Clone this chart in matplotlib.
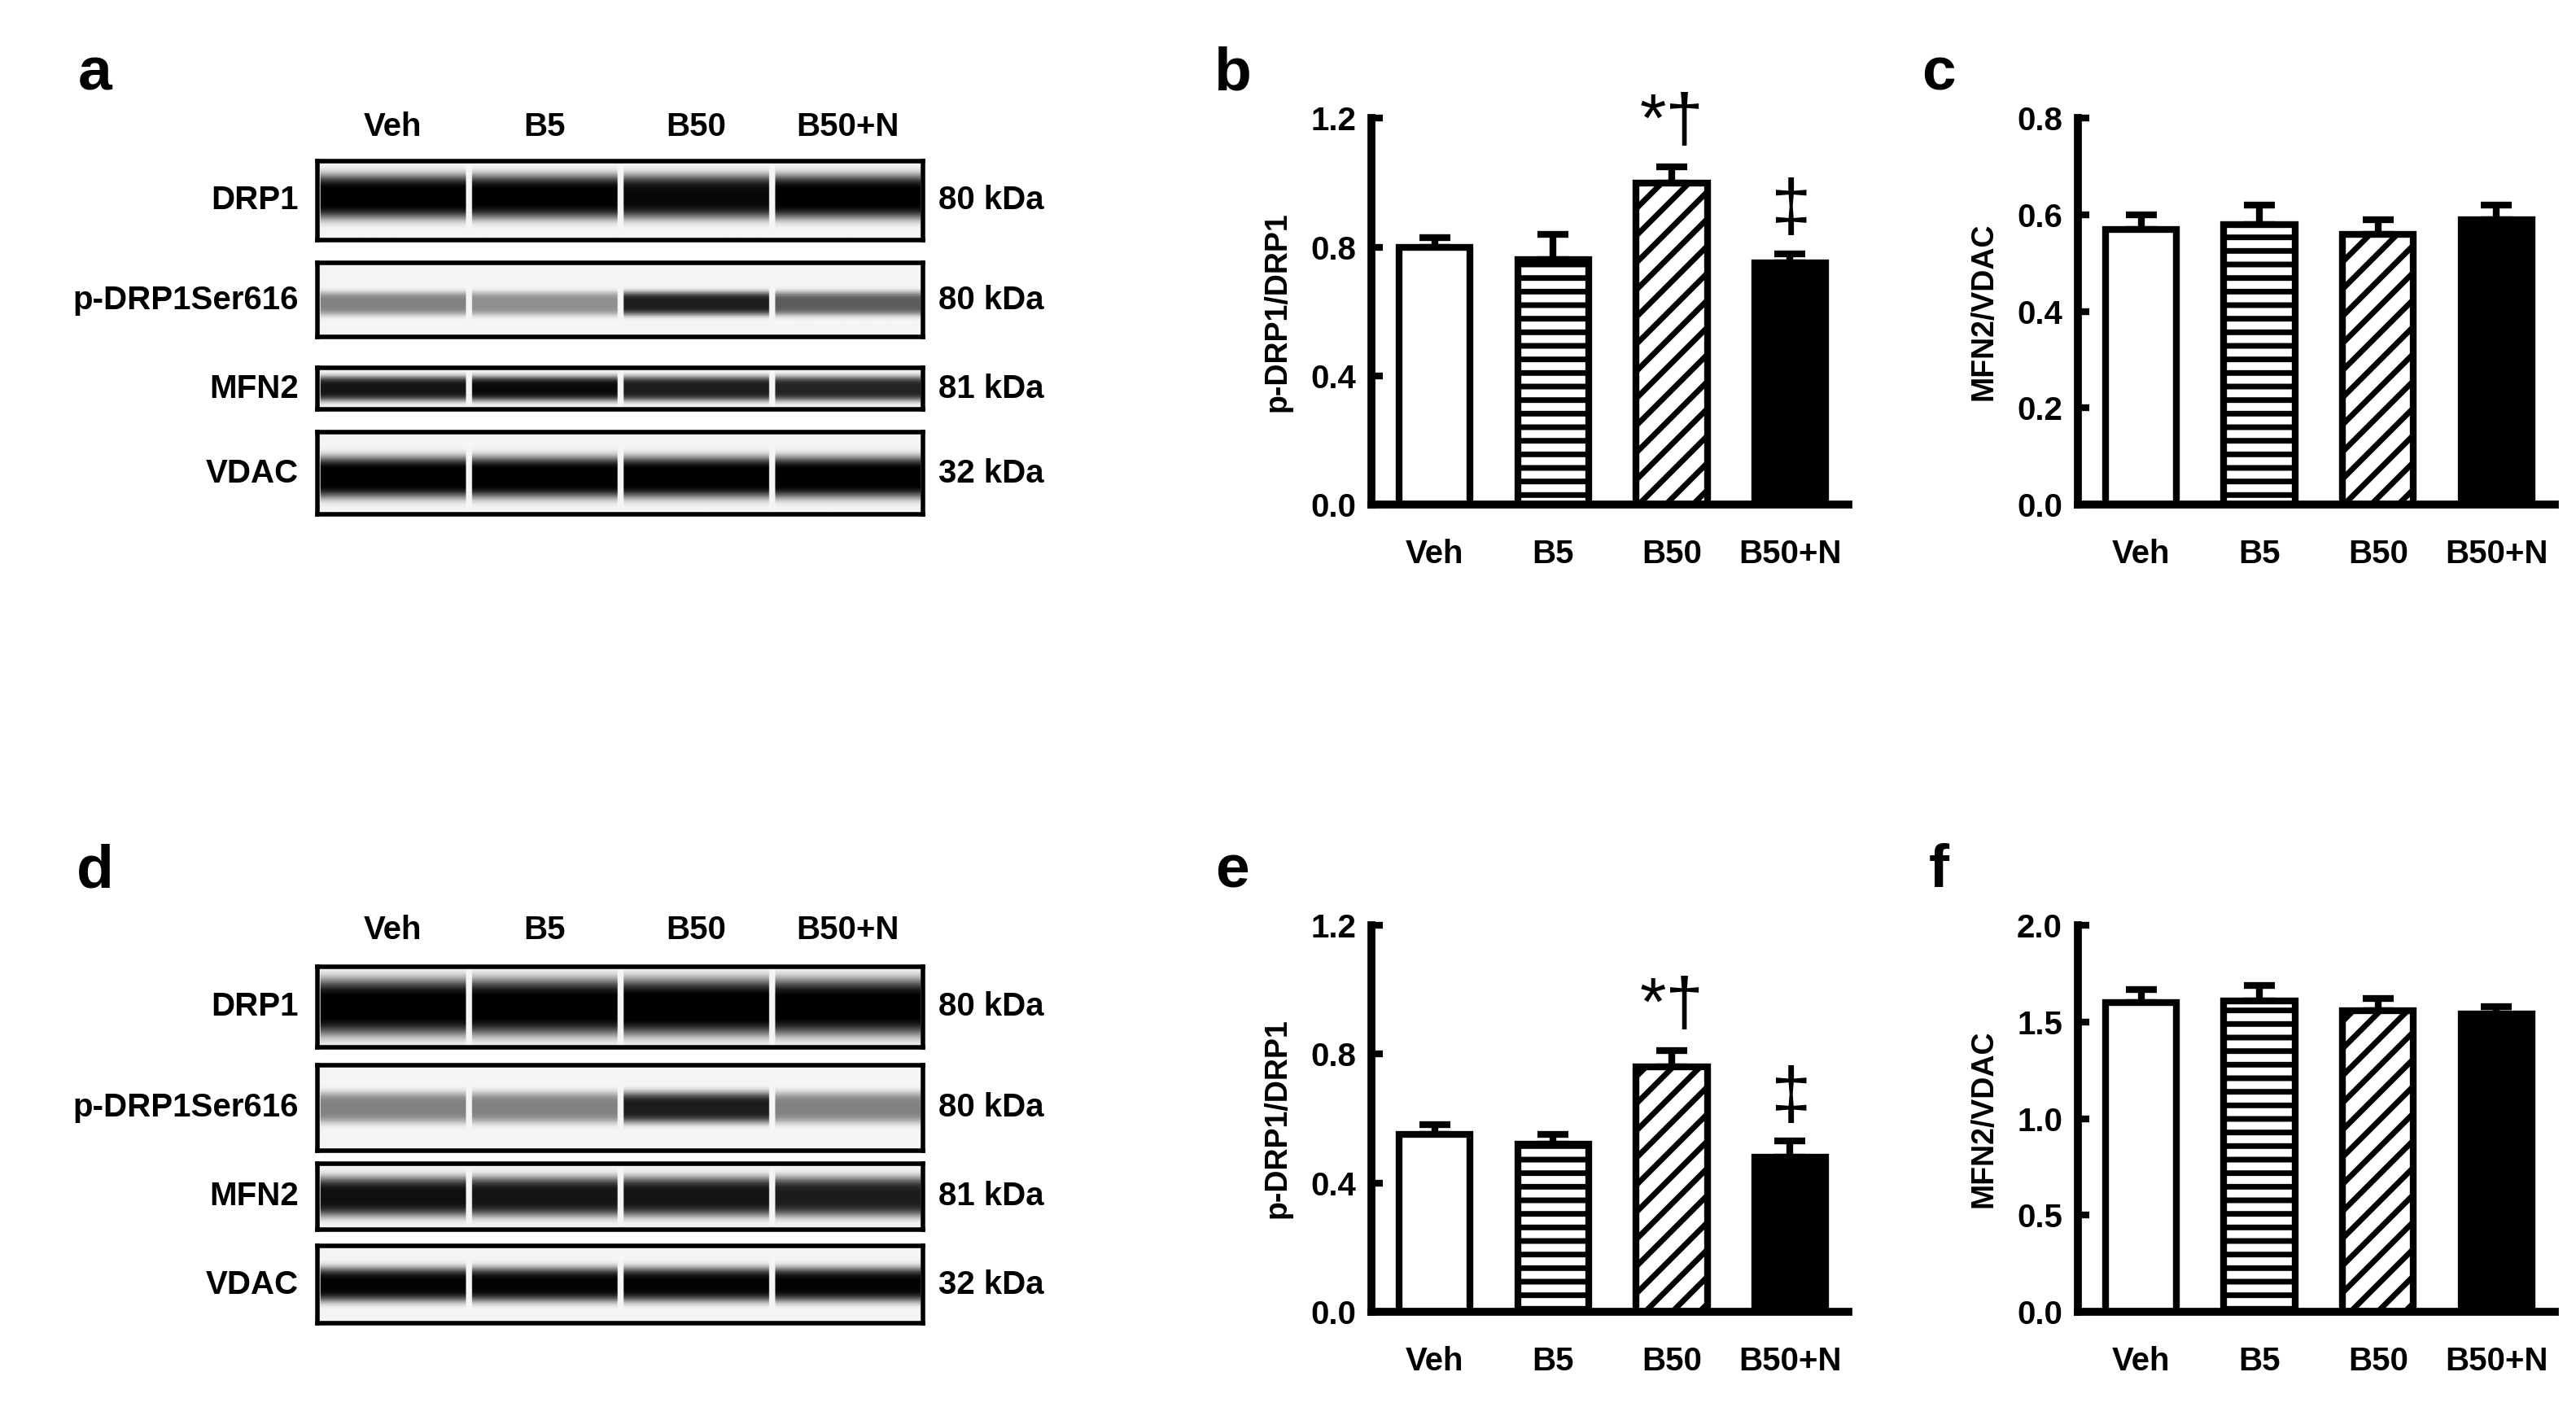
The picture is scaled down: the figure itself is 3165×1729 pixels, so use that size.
import matplotlib
matplotlib.use('Agg')
import matplotlib.pyplot as plt
import numpy as np

plt.rcParams['font.family'] = ['Liberation Sans', 'DejaVu Sans']
plt.rcParams['font.weight'] = 'bold'
plt.rcParams['axes.labelweight'] = 'bold'
plt.rcParams['hatch.linewidth'] = 5.0

W, H = 1568.0, 856.0
groups = ['Veh', 'B5', 'B50', 'B50+N']
proteins = ['DRP1', 'p-DRP1Ser616', 'MFN2', 'VDAC']
kda = ['80 kDa', '80 kDa', '81 kDa', '32 kDa']

# band intensity per lane (0..1), read by eye from blots
blot_top = {'DRP1': [0.98, 0.97, 0.93, 0.98], 'p-DRP1Ser616': [0.45, 0.40, 0.85, 0.60],
            'MFN2': [0.88, 0.92, 0.85, 0.82], 'VDAC': [1.0, 1.0, 1.0, 1.0]}
blot_bot = {'DRP1': [0.98, 0.98, 1.0, 0.98], 'p-DRP1Ser616': [0.45, 0.45, 0.85, 0.45],
            'MFN2': [0.90, 0.88, 0.88, 0.85], 'VDAC': [0.95, 0.95, 0.95, 0.95]}

b_mean = [0.80, 0.76, 1.00, 0.75]; b_err = [0.03, 0.08, 0.05, 0.03]
c_mean = [0.57, 0.58, 0.56, 0.59]; c_err = [0.03, 0.04, 0.03, 0.03]
e_mean = [0.55, 0.52, 0.76, 0.48]; e_err = [0.03, 0.03, 0.05, 0.05]
f_mean = [1.60, 1.61, 1.56, 1.54]; f_err = [0.07, 0.08, 0.06, 0.04]

FS = 29

fig = plt.figure(figsize=(31.65, 17.29), dpi=100)

def box(x0, y0, x1, y1):
    return fig.add_axes([x0 / W, 1 - y1 / H, (x1 - x0) / W, (y1 - y0) / H])

def blot(rows, intens, label_y):
    # rows: (top, bottom, band center frac, band width frac)
    for i, (name, (y0, y1, cy, sw)) in enumerate(zip(proteins, rows)):
        ax = box(193, y0, 562, y1)
        n = 60
        img = np.zeros((n, 400))
        yy = np.linspace(0, 1, n)[:, None]
        for j, v in enumerate(intens[name]):
            xs = slice(j * 100 + 2, j * 100 + 98)
            img[:, xs] = v * np.exp(-((yy - cy) / sw) ** 4)
        img = np.clip(img + 0.04, 0, 1)
        ax.imshow(img, cmap='gray_r', vmin=0, vmax=1, aspect='auto')
        ax.set_xticks([]); ax.set_yticks([])
        for s in ax.spines.values():
            s.set_linewidth(4)
        ax.text(-0.03, 0.5, name, transform=ax.transAxes, ha='right', va='center', fontsize=FS)
        ax.text(1.025, 0.5, kda[i], transform=ax.transAxes, ha='left', va='center', fontsize=FS)
    for j, g in enumerate(groups):
        fig.text((193 + (j + 0.5) * 369 / 4) / W, 1 - label_y / H, g,
                 ha='center', va='center', fontsize=FS)

blot([(98, 146, 0.45, 0.28), (160, 205, 0.55, 0.16), (224, 249, 0.5, 0.3), (263, 313, 0.55, 0.25)],
     blot_top, 77)
blot([(588, 637, 0.5, 0.35), (648, 700, 0.5, 0.18), (708, 748, 0.5, 0.3), (758, 805, 0.5, 0.22)],
     blot_bot, 566)

def bars(x0, y0, x1, y1, mean, err, ylim, step, ylabel, marks=None):
    ax = box(x0, y0, x1, y1)
    x = np.arange(4)
    styles = [dict(color='white'), dict(color='white', hatch='-'),
              dict(color='white', hatch='/'), dict(color='black')]
    for i in range(4):
        ax.bar(x[i], mean[i], 0.6, edgecolor='black', linewidth=6, zorder=2, **styles[i])
        ax.errorbar(x[i], mean[i], yerr=[[0], [err[i]]], color='black', capsize=14,
                    capthick=6, elinewidth=6, zorder=1)
    ax.set_xlim(-0.53, 3.49)
    ax.set_ylim(0, ylim)
    ax.set_yticks(np.arange(0, ylim + 1e-9, step))
    ax.set_yticklabels([f'{v:.1f}' for v in np.arange(0, ylim + 1e-9, step)])
    ax.set_xticks(x)
    ax.set_xticklabels(groups)
    ax.tick_params(axis='x', length=0, pad=30, labelsize=FS)
    ax.tick_params(axis='y', direction='in', length=10, width=6, labelsize=FS, pad=14)
    for s in ['top', 'right']:
        ax.spines[s].set_visible(False)
    for s in ['left', 'bottom']:
        ax.spines[s].set_linewidth(7)
    ax.set_ylabel(ylabel, fontsize=FS - 2, labelpad=16)
    if marks:
        ax.text(2, mean[2] + err[2] + 0.03 * ylim, '*\u2020', ha='center', va='bottom',
                fontsize=60, fontweight='normal')
        ax.text(3, mean[3] + err[3] + 0.02 * ylim, '\u2021', ha='center', va='bottom',
                fontsize=64, fontweight='normal')
    return ax

bars(835, 72, 1125, 307, b_mean, b_err, 1.2, 0.4, 'p-DRP1/DRP1', True)
bars(1265, 72, 1555, 307, c_mean, c_err, 0.8, 0.2, 'MFN2/VDAC')
bars(835, 563, 1125, 798, e_mean, e_err, 1.2, 0.4, 'p-DRP1/DRP1', True)
bars(1265, 563, 1555, 798, f_mean, f_err, 2.0, 0.5, 'MFN2/VDAC')

for lab, (px, py) in zip('abcdef', [(58, 45), (750, 45), (1180, 45), (58, 530), (750, 530), (1180, 530)]):
    fig.text(px / W, 1 - py / H, lab, fontsize=54, ha='center', va='center')

fig.savefig('out.png', dpi=100, facecolor='white')
